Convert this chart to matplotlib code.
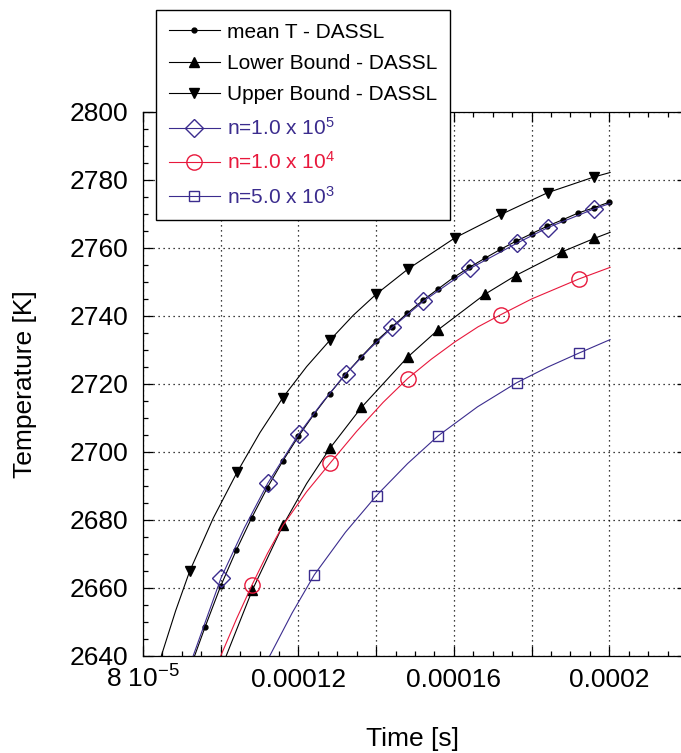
import numpy as np
import matplotlib.pyplot as plt
from matplotlib.ticker import MultipleLocator

plt.rcParams['font.family'] = ['Liberation Sans', 'DejaVu Sans']
plt.rcParams['mathtext.fontset'] = 'custom'
plt.rcParams['mathtext.rm'] = 'Liberation Sans'
plt.rcParams['mathtext.it'] = 'Liberation Sans:italic'
plt.rcParams['mathtext.bf'] = 'Liberation Sans:bold'

# time in units of 1e-5 s, temperature in K
mean_x = [9.2, 9.6, 10.0, 10.4, 10.8, 11.2, 11.6, 12.0, 12.4, 12.8, 13.2, 13.6, 14.0, 14.4,
          14.8, 15.2, 15.6, 16.0, 16.4, 16.8, 17.2, 17.6, 18.0, 18.4, 18.8, 19.2, 19.6, 20.0]
mean_t = [2636.0, 2648.6, 2660.6, 2671.1, 2680.7, 2689.5, 2697.4, 2704.6, 2711.1, 2717.1,
          2722.7, 2727.8, 2732.6, 2736.7, 2740.8, 2744.6, 2748.0, 2751.4, 2754.3, 2757.0,
          2759.6, 2762.0, 2764.2, 2766.4, 2768.3, 2770.3, 2771.8, 2773.5]

lower_x = [10.14, 10.81, 11.60, 12.21, 12.81, 13.62, 14.81, 15.60, 16.80, 17.59, 18.79, 19.61, 20.02]
lower_t = [2640.0, 2659.3, 2678.4, 2690.7, 2701.1, 2713.1, 2727.9, 2736.0, 2746.4, 2751.9,
           2758.9, 2762.8, 2764.6]
lower_mk = [1, 2, 4, 5, 6, 7, 8, 9, 10, 11]

upper_x = [8.47, 8.84, 9.20, 9.81, 10.42, 11.01, 11.60, 12.21, 12.82, 13.41, 14.00, 14.83,
           16.03, 17.22, 18.42, 19.61, 20.02]
upper_t = [2640.0, 2653.3, 2664.9, 2680.6, 2694.0, 2705.7, 2716.0, 2725.1, 2733.0, 2740.2,
           2746.4, 2753.9, 2763.0, 2769.9, 2776.3, 2780.9, 2782.2]
upper_mk = [2, 4, 6, 8, 10, 11, 12, 13, 14, 15]

n1e5_x = [9.29, 10.01, 10.61, 11.21, 12.01, 12.61, 13.22, 13.82, 14.42, 15.21, 16.42, 17.62,
          18.42, 19.61, 20.02]
n1e5_t = [2640.0, 2663.0, 2677.7, 2690.8, 2705.3, 2714.5, 2723.0, 2730.2, 2736.7, 2744.3,
          2754.0, 2761.4, 2766.0, 2771.5, 2773.1]
n1e5_mk = [1, 3, 4, 6, 8, 9, 10, 11, 12, 13]

n1e4_x = [10.0, 10.41, 10.81, 11.2, 11.60, 12.21, 12.82, 13.5, 14.18, 14.81, 15.42, 16.03,
          16.62, 17.21, 18.0, 19.22, 20.02]
n1e4_t = [2640.0, 2651.0, 2661.0, 2670.1, 2678.4, 2688.3, 2696.8, 2706.1, 2714.6, 2721.6,
          2727.3, 2732.4, 2736.8, 2740.4, 2745.0, 2750.9, 2754.3]
n1e4_mk = [2, 6, 9, 13, 15]

n5e3_x = [11.26, 11.84, 12.41, 13.21, 14.01, 14.81, 15.60, 16.61, 17.62, 18.42, 19.22, 20.02]
n5e3_t = [2640.0, 2652.7, 2663.9, 2676.4, 2687.2, 2696.6, 2704.8, 2713.3, 2720.4, 2725.0,
          2729.1, 2733.05]
n5e3_mk = [2, 4, 6, 8, 10]

purple = '#3b2c8e'
red = '#e8183c'

fig = plt.figure(figsize=(6.81, 7.53), dpi=100)
ax = fig.add_axes([143 / 681, 97 / 753, 544 / 681, 544 / 753])

s = 1e-5
ax.plot(np.array(mean_x) * s, mean_t, color='black', lw=0.8, marker='o', ms=3.5,
        label='mean T - DASSL')
ax.plot(np.array(lower_x) * s, lower_t, color='black', lw=0.8, marker='^', ms=7.5,
        markevery=lower_mk, label='Lower Bound - DASSL')
ax.plot(np.array(upper_x) * s, upper_t, color='black', lw=0.8, marker='v', ms=7.5,
        markevery=upper_mk, label='Upper Bound - DASSL')
ax.plot(np.array(n1e5_x) * s, n1e5_t, color=purple, lw=0.8, marker='D', ms=9.5, mfc='none',
        mew=1.0, markevery=n1e5_mk, label=r'n=1.0 x 10$^5$')
ax.plot(np.array(n1e4_x) * s, n1e4_t, color=red, lw=0.8, marker='o', ms=11, mfc='none',
        mew=1.0, markevery=n1e4_mk, label=r'n=1.0 x 10$^4$')
ax.plot(np.array(n5e3_x) * s, n5e3_t, color=purple, lw=0.8, marker='s', ms=7.2, mfc='none',
        mew=1.0, markevery=n5e3_mk, label=r'n=5.0 x 10$^3$')

ax.set_xlim(8e-5, 22e-5)
ax.set_ylim(2640, 2800)

xt = [8e-5, 10e-5, 12e-5, 14e-5, 16e-5, 18e-5, 20e-5, 22e-5]
ax.set_xticks(xt, [r'8 10$^{-5}$', '', '0.00012', '', '0.00016', '', '0.0002', ''])
ax.xaxis.set_minor_locator(MultipleLocator(0.5e-5))
ax.yaxis.set_major_locator(MultipleLocator(20))
ax.yaxis.set_minor_locator(MultipleLocator(5))

ax.tick_params(which='both', direction='in', top=True, right=True, labelsize=19, width=0.9)
ax.tick_params(which='major', length=7)
ax.tick_params(which='minor', length=3.5)
ax.tick_params(axis='x', which='major', pad=22.5)
ax.tick_params(axis='y', which='major', pad=10.5)
plt.setp(ax.get_xticklabels(), va='baseline')

ax.grid(True, which='major', color='black', linestyle=(0, (1, 3)), linewidth=0.9)
ax.set_axisbelow(True)
for sp in ax.spines.values():
    sp.set_linewidth(0.9)

ax.set_xlabel('Time [s]', fontsize=19)
ax.set_ylabel('Temperature [K]', fontsize=19)
ax.xaxis.set_label_coords(0.496, -0.131)
ax.yaxis.set_label_coords(-0.195, 0.5)

leg = ax.legend(loc='upper left', bbox_to_anchor=(0.024, 1.1875), numpoints=1, fontsize=15,
                frameon=True, fancybox=False, edgecolor='black', framealpha=1,
                handlelength=2.45, handletextpad=0.34, labelspacing=0.6, borderpad=0.6,
                borderaxespad=0)
leg.get_frame().set_linewidth(1.0)
for txt, c in zip(leg.get_texts(), ['black', 'black', 'black', purple, red, purple]):
    txt.set_color(c)

fig.savefig('out.png', dpi=100)
